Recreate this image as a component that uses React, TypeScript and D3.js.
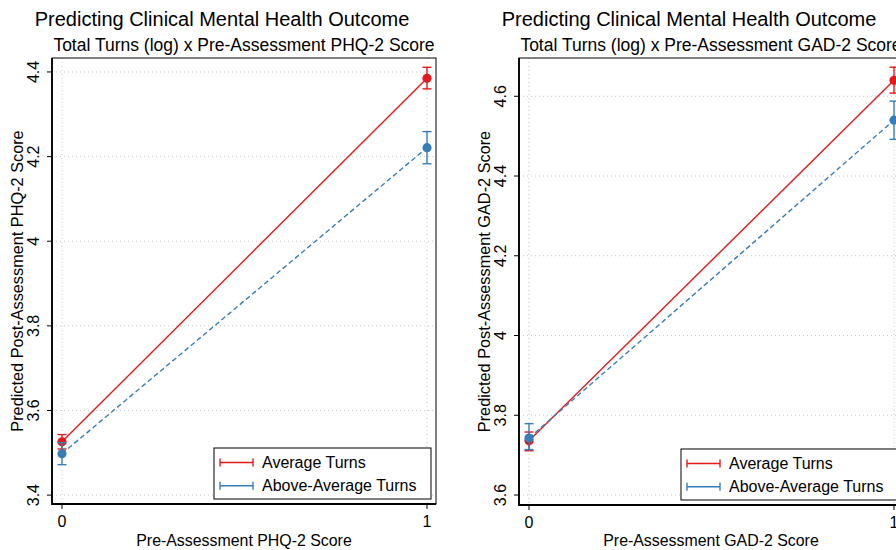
import * as d3 from "d3";
import React, {useEffect, useRef} from "react";

// groups shown in the legend
const turnGroups = ["Average Turns", "Above-Average Turns"];
const groupColors = ["#e41a1c", "#377eb8"];
const xTicks = [0, 1];

// PHQ-2 panel (predicted values with 95% CI)
const phqAverage = [3.526, 4.385];
const phqAverageLo = [3.509, 4.360];
const phqAverageHi = [3.543, 4.411];
const phqAbove = [3.498, 4.221];
const phqAboveLo = [3.472, 4.183];
const phqAboveHi = [3.524, 4.259];
const phqTicks = [3.4, 3.6, 3.8, 4, 4.2, 4.4];

// GAD-2 panel
const gadAverage = [3.736, 4.640];
const gadAverageLo = [3.711, 4.608];
const gadAverageHi = [3.758, 4.673];
const gadAbove = [3.743, 4.540];
const gadAboveLo = [3.714, 4.492];
const gadAboveHi = [3.779, 4.588];
const gadTicks = [3.6, 3.8, 4, 4.2, 4.4, 4.6];

const FONT = "'Liberation Sans', Arial, Helvetica, sans-serif";

interface Panel {
  subtitle: string
  yTitle: string
  xTitle: string
  ticks: number[]
  domain: [number, number]
  series: { mean: number[], lo: number[], hi: number[] }[]
  left: number
  right: number
  bottom: number
}

const panels: Panel[] = [
  {
    subtitle: "Total Turns (log) x Pre-Assessment PHQ-2 Score",
    yTitle: "Predicted Post-Assessment PHQ-2 Score",
    xTitle: "Pre-Assessment PHQ-2 Score",
    ticks: phqTicks,
    domain: [3.379, 4.433],
    series: [
      {mean: phqAverage, lo: phqAverageLo, hi: phqAverageHi},
      {mean: phqAbove, lo: phqAboveLo, hi: phqAboveHi},
    ],
    left: 52, right: 436, bottom: 504,
  },
  {
    subtitle: "Total Turns (log) x Pre-Assessment GAD-2 Score",
    yTitle: "Predicted Post-Assessment GAD-2 Score",
    xTitle: "Pre-Assessment GAD-2 Score",
    ticks: gadTicks,
    domain: [3.575, 4.696],
    series: [
      {mean: gadAverage, lo: gadAverageLo, hi: gadAverageHi},
      {mean: gadAbove, lo: gadAboveLo, hi: gadAboveHi},
    ],
    left: 519, right: 903, bottom: 505,
  },
];

const App: React.FC = () => {
  const ref = useRef<SVGSVGElement | null>(null);

  useEffect(() => {
    const svg = d3.select(ref.current);
    svg.selectAll('*').remove();
    const top = 58;

    panels.forEach((p) => {
      const g = svg.append('g').style('font-family', FONT);
      const x = d3.scaleLinear().domain([0, 1]).range([p.left + 10, p.right - 9]);
      const y = d3.scaleLinear().domain(p.domain).range([p.bottom, top]);
      const cx = (p.left + p.right) / 2;

      // titles
      g.append('text')
        .attr('x', cx - 22).attr('y', 26)
        .attr('text-anchor', 'middle')
        .style('font-size', '20px')
        .text('Predicting Clinical Mental Health Outcome');
      g.append('text')
        .attr('x', cx).attr('y', 51)
        .attr('text-anchor', 'middle')
        .style('font-size', '17.5px')
        .text(p.subtitle);

      // grid
      g.selectAll('.hgrid').data(p.ticks).enter().append('line')
        .attr('x1', p.left).attr('x2', p.right)
        .attr('y1', (d) => y(d)).attr('y2', (d) => y(d))
        .attr('stroke', '#c8c8c8').attr('stroke-dasharray', '1,3');
      g.selectAll('.vgrid').data(xTicks).enter().append('line')
        .attr('y1', top).attr('y2', p.bottom)
        .attr('x1', (d) => x(d)).attr('x2', (d) => x(d))
        .attr('stroke', '#c8c8c8').attr('stroke-dasharray', '1,3');

      // y axis ticks + labels (rotated)
      g.selectAll('.ytick').data(p.ticks).enter().append('line')
        .attr('x1', p.left - 5).attr('x2', p.left)
        .attr('y1', (d) => y(d)).attr('y2', (d) => y(d))
        .attr('stroke', 'black');
      g.selectAll('.ylab').data(p.ticks).enter().append('text')
        .attr('transform', (d) => `translate(${p.left - 13.5},${y(d)}) rotate(-90)`)
        .attr('text-anchor', 'middle')
        .style('font-size', '16px')
        .text((d) => d3.format('~g')(d));
      g.append('text')
        .attr('transform', `translate(${p.left - 29},${(top + p.bottom) / 2}) rotate(-90)`)
        .attr('text-anchor', 'middle')
        .style('font-size', '16.3px')
        .text(p.yTitle);

      // x axis ticks + labels
      g.selectAll('.xtick').data(xTicks).enter().append('line')
        .attr('x1', (d) => x(d)).attr('x2', (d) => x(d))
        .attr('y1', p.bottom).attr('y2', p.bottom + 5)
        .attr('stroke', 'black');
      g.selectAll('.xlab').data(xTicks).enter().append('text')
        .attr('x', (d) => x(d)).attr('y', p.bottom + 23)
        .attr('text-anchor', 'middle')
        .style('font-size', '16px')
        .text((d) => d);
      g.append('text')
        .attr('x', cx).attr('y', 545.5)
        .attr('text-anchor', 'middle')
        .style('font-size', '15.9px')
        .text(p.xTitle);

      // series
      p.series.forEach((s, i) => {
        const color = groupColors[i];
        const line = d3.line<number>().x((_, j) => x(xTicks[j])).y((d) => y(d));
        g.append('path')
          .attr('d', line(s.mean))
          .attr('fill', 'none')
          .attr('stroke', color)
          .attr('stroke-width', 1.4)
          .attr('stroke-dasharray', i === 1 ? '5,3' : null);
        xTicks.forEach((t, j) => {
          const px = x(t);
          g.append('line')
            .attr('x1', px).attr('x2', px)
            .attr('y1', y(s.lo[j])).attr('y2', y(s.hi[j]))
            .attr('stroke', color).attr('stroke-width', 1.4);
          [s.lo[j], s.hi[j]].forEach((v) => {
            g.append('line')
              .attr('x1', px - 4.5).attr('x2', px + 4.5)
              .attr('y1', y(v)).attr('y2', y(v))
              .attr('stroke', color).attr('stroke-width', 1.4);
          });
          g.append('circle')
            .attr('cx', px).attr('cy', y(s.mean[j]))
            .attr('r', 4.6)
            .attr('fill', color);
        });
      });

      // legend
      const lx = p.right - 222, ly = p.bottom - 56;
      const legend = g.append('g').attr('transform', `translate(${lx},${ly})`);
      legend.append('rect')
        .attr('width', 217).attr('height', 51)
        .attr('fill', 'white').attr('stroke', 'black').attr('stroke-width', 1);
      turnGroups.forEach((name, i) => {
        const yy = 14.5 + i * 23.3;
        legend.append('line')
          .attr('x1', 6).attr('x2', 39).attr('y1', yy).attr('y2', yy)
          .attr('stroke', groupColors[i]).attr('stroke-width', 1.6);
        [6, 39].forEach((xx) => {
          legend.append('line')
            .attr('x1', xx).attr('x2', xx).attr('y1', yy - 4).attr('y2', yy + 4)
            .attr('stroke', groupColors[i]).attr('stroke-width', 1.4);
        });
        legend.append('text')
          .attr('x', 48).attr('y', yy + 5.5)
          .style('font-size', '16px')
          .text(name);
      });

      // plot frame
      g.append('rect')
        .attr('x', p.left).attr('y', top)
        .attr('width', p.right - p.left).attr('height', p.bottom - top)
        .attr('fill', 'none').attr('stroke', 'black').attr('stroke-width', 1);
      g.append('path')
        .attr('d', `M${p.left},${top}V${p.bottom}H${p.right}`)
        .attr('fill', 'none').attr('stroke', 'black').attr('stroke-width', 1.8);
    });

    return () => {
      svg.selectAll('*').remove();
    };
  }, []);

  return (
    <svg ref={ref} width={896} height={550}
      style={{position: 'absolute', left: 0, top: 0, background: 'white'}}/>
  );
};

export default App;
